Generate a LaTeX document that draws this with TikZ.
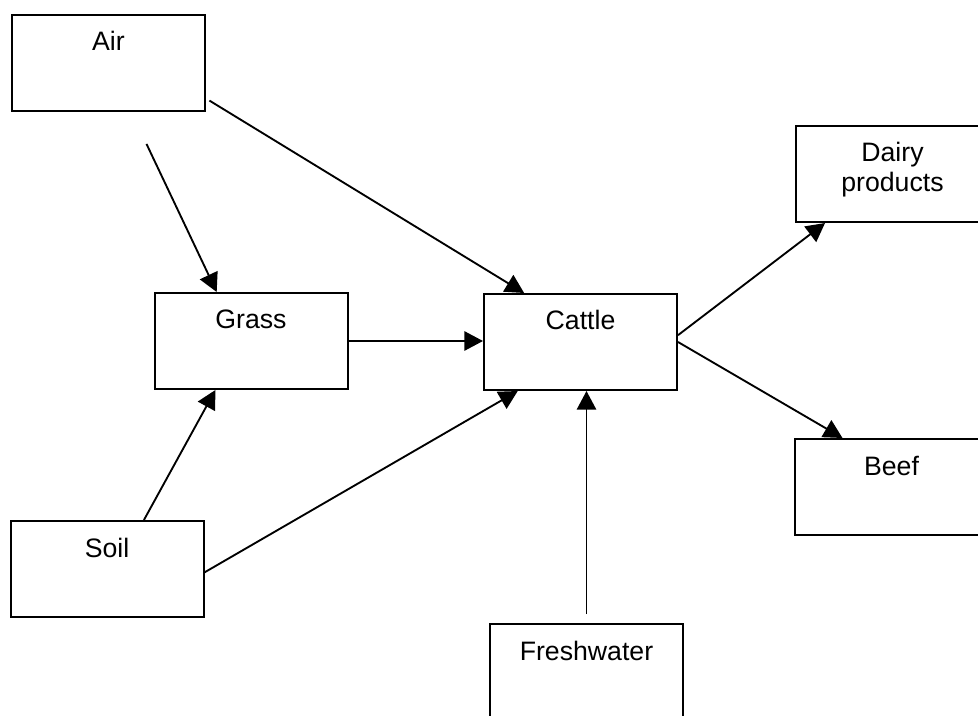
\documentclass[tikz,border=0pt]{standalone}
\usepackage{fontspec}
\setmainfont{Liberation Sans}
\usetikzlibrary{arrows.meta}

\begin{document}
\begin{tikzpicture}[x=0.75pt, y=-0.75pt,
		box/.style={draw, line width=1.5pt, minimum width=144.75pt, minimum height=72pt, inner sep=0pt, text height=27pt, text depth=45pt, align=center, font=\fontsize{20}{22.5}\selectfont},
		flow/.style={line width=1.4pt, -{Triangle[length=14pt, width=14.5pt]}}]
		\useasboundingbox (0,0) rectangle (978,716);

		\node[box] (air) at (108.5,63) {Air};
		\node[box] (grass) at (251,341) {Grass};
		\node[box] (cattle) at (580.5,342) {Cattle};
		\node[box, text height=49.5pt, text depth=22.5pt] (dairy) at (892.5,174) {Dairy\\products};
		\node[box] (beef) at (891.5,487) {Beef};
		\node[box] (soil) at (107,569) {Soil};
		\node[box] (fresh) at (586.5,672) {Freshwater};

		\draw[flow, shorten <=3pt] (air.340) -- (cattle.139);
		\draw[flow, shorten <=26.5pt] (air.295) -- (grass.125);
		\draw[flow] (grass.east) -- (grass.east -| cattle.west);
		\draw[flow] (soil.53) -- (grass.234);
		\draw[flow] (soil.358) -- (cattle.218);
		\draw[flow, shorten <=6.75pt] (fresh.north) -- (fresh.north |- cattle.south);
		\draw[flow] (cattle.4) -- (dairy.216);
		\draw[flow] (cattle.east) -- (beef.135);
	\end{tikzpicture}
\end{document}
